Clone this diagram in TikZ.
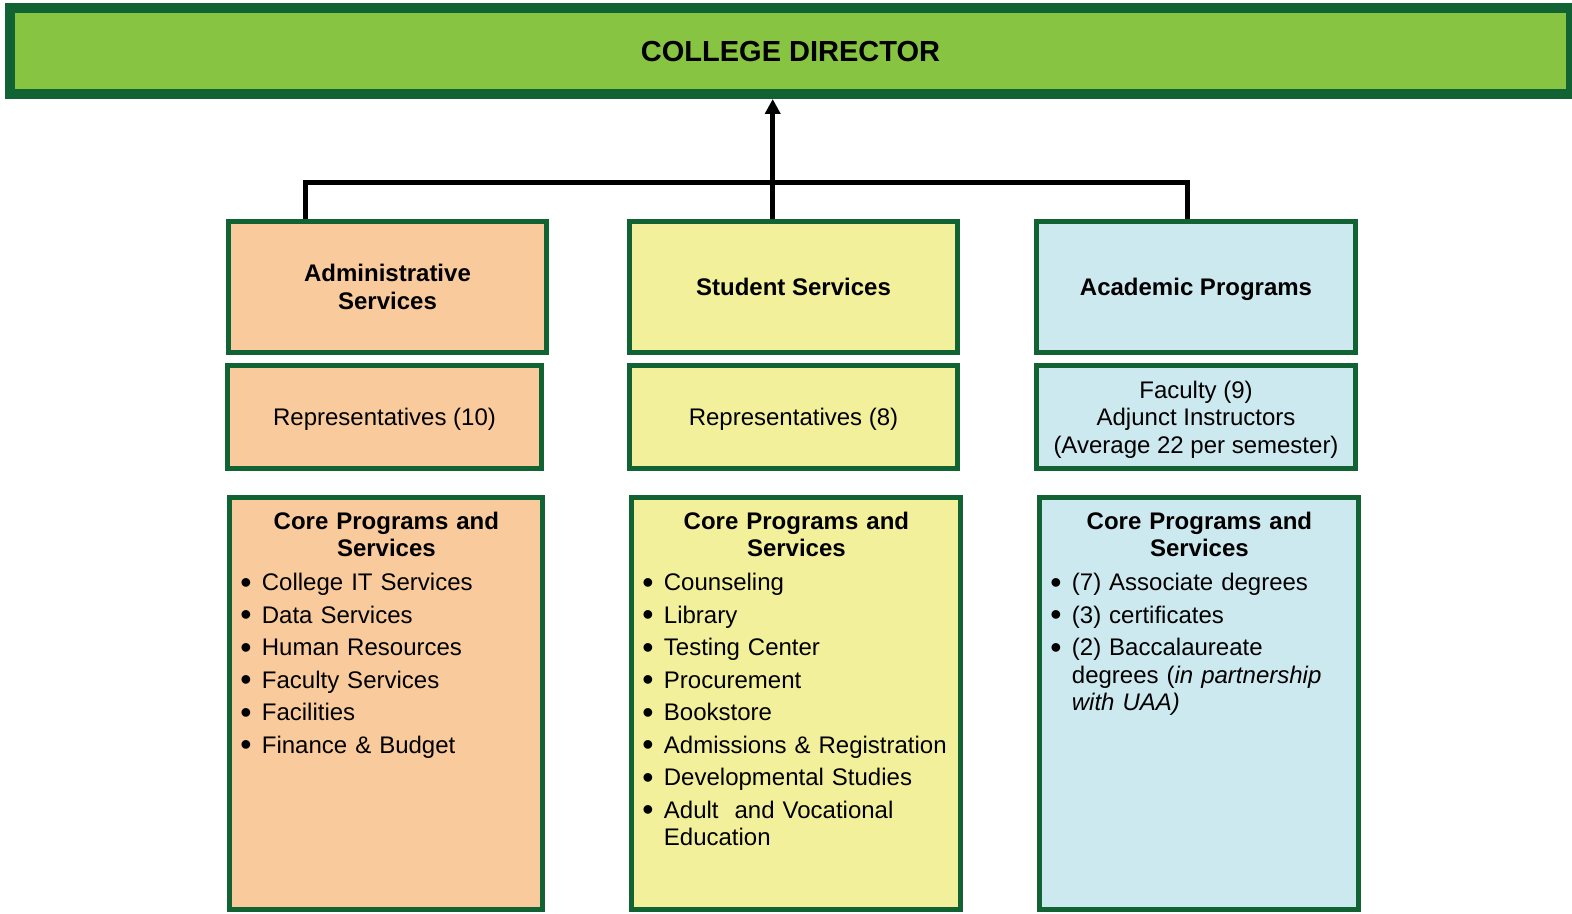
\documentclass[tikz,border=0pt]{standalone}
\usepackage{fontspec}
\setmainfont{Liberation Sans}
\usetikzlibrary{arrows.meta}

\definecolor{frame}{RGB}{18,99,52}
\definecolor{director}{RGB}{134,196,66}
\definecolor{adminfill}{RGB}{249,202,155}
\definecolor{studentfill}{RGB}{243,240,156}
\definecolor{academicfill}{RGB}{205,233,240}

\tikzset{
	deptbox/.style={draw=frame, line width=2.5pt, rectangle, inner sep=0pt, text depth=0pt, align=center, font=\fontsize{12pt}{13.75pt}\selectfont},
	headbox/.style={deptbox, minimum height=65.5pt, font=\fontsize{12pt}{13.75pt}\selectfont\bfseries},
	staffbox/.style={deptbox, minimum height=51.5pt},
	corebox/.style={deptbox, minimum height=206pt},
	corelist/.style={inner sep=0pt, anchor=north west, font=\fontsize{12pt}{13.75pt}\selectfont},
	orgline/.style={line width=2.5pt}
}

\newcommand{\corehead}{{\centering\bfseries\rule{0pt}{10pt}Core Programs and\par Services\par}\vskip 0.75pt\raggedright}
\newcommand{\coreitem}[1]{\par\vskip 2.5pt\hangindent=10.75pt\hangafter=1\noindent\hbox to 10.75pt{\raisebox{-1.2pt}{\fontsize{16pt}{0pt}\selectfont\textbullet}\hfil}#1}

\begin{document}
\begin{tikzpicture}[x=0.5pt,y=-0.5pt]
	\useasboundingbox (0,0) rectangle (1572,914);

	%the director on top
	\node[draw=frame, fill=director, line width=5pt, minimum width=780.5pt, minimum height=43pt, inner sep=0pt, text depth=0pt, font=\fontsize{14.5pt}{17pt}\selectfont\bfseries] (director) at (790.5,51) {COLLEGE DIRECTOR};

	%administrative services (orange)
	\node[headbox, fill=adminfill, minimum width=159pt] (admin1) at (387.5,287) {Administrative\\Services};
	\node[staffbox, fill=adminfill, minimum width=157pt] (admin2) at (384.5,417) {Representatives (10)};
	\node[corebox, fill=adminfill, minimum width=156.5pt] (admin3) at (386,703.5) {};
	\node[corelist, text width=146pt] (adminlist) at ([shift={(13,14)}]admin3.north west) {\corehead
		\coreitem{College IT Services}
		\coreitem{Data Services}
		\coreitem{Human Resources}
		\coreitem{Faculty Services}
		\coreitem{Facilities}
		\coreitem{Finance \& Budget}\par};

	%student services (yellow)
	\node[headbox, fill=studentfill, minimum width=164pt] (student1) at (793.5,287) {Student Services};
	\node[staffbox, fill=studentfill, minimum width=164pt] (student2) at (793.5,417) {Representatives (8)};
	\node[corebox, fill=studentfill, minimum width=164.5pt] (student3) at (796,703.5) {};
	\node[corelist, text width=154pt] (studentlist) at ([shift={(13,14)}]student3.north west) {\corehead
		\coreitem{Counseling}
		\coreitem{Library}
		\coreitem{Testing Center}
		\coreitem{Procurement}
		\coreitem{Bookstore}
		\coreitem{Admissions \& Registration}
		\coreitem{Developmental Studies}
		\coreitem{Adult\ \ and Vocational\newline Education}\par};

	%academic programs (blue)
	\node[headbox, fill=academicfill, minimum width=159.5pt] (academic1) at (1196,287) {Academic Programs};
	\node[staffbox, fill=academicfill, minimum width=159.5pt] (academic2) at (1196,417) {Faculty (9)\\Adjunct Instructors\\(Average 22 per semester)};
	\node[corebox, fill=academicfill, minimum width=159.5pt] (academic3) at (1199,703.5) {};
	\node[corelist, text width=149pt] (academiclist) at ([shift={(13,14)}]academic3.north west) {\corehead
		\coreitem{(7) Associate degrees}
		\coreitem{(3) certificates}
		\coreitem{(2) Baccalaureate\newline degrees (\textit{in partnership}\newline \textit{with UAA)}}\par};

	%connectors up to the director
	\coordinate (hubA) at (305.5,183);
	\coordinate (hubS) at (772.7,183);
	\coordinate (hubC) at (1187,183);
	\draw[orgline] (hubA |- admin1.north) -- (hubA) -- (hubC) -- (hubC |- academic1.north);
	\draw[orgline, -{Triangle[width=7.5pt,length=7.5pt]}] (hubS |- student1.north) -- (hubS |- director.south);
\end{tikzpicture}
\end{document}
